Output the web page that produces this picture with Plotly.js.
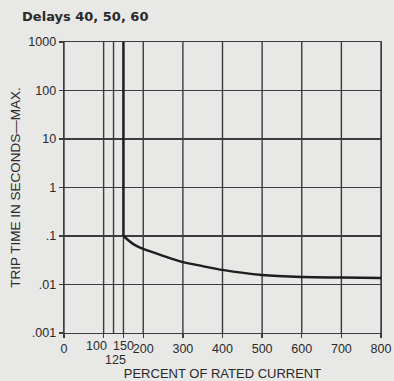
<!DOCTYPE html>
<html>
<head>
<meta charset="utf-8">
<script src="https://cdn.plot.ly/plotly-3.0.1.min.js"></script>
<style>html,body{margin:0;padding:0;background:#e8e8e6;}#chart{width:394px;height:381px;}</style>
</head>
<body>
<div id="chart"></div>
<script>
// Trip curve: percent of rated current vs trip time (seconds, max)
var currentPct = [150, 150, 175, 200, 250, 300, 350, 400, 500, 600, 700, 800];
var tripTime   = [1000, 0.1, 0.068, 0.054, 0.039, 0.029, 0.024, 0.020, 0.0157, 0.0143, 0.0139, 0.0136];

var xTickVals = [0, 100, 150, 200, 300, 400, 500, 600, 700, 800];
var xTickText = ['0', '', '', '200', '300', '400', '500', '600', '700', '800'];
var xGridVals = [0, 100, 125, 150, 200, 300, 400, 500, 600, 700, 800];
var crowdedLabels = [{v:100, t:'100', dx:-7, dy:0}, {v:150, t:'150', dx:0, dy:0}, {v:125, t:'125', dx:2, dy:-14}];
var yTickVals = [0.001, 0.01, 0.1, 1, 10, 100, 1000];
var yTickText = ['.001', '.01', '.1', '1', '10', '100', '1000'];

var gridColor = '#3c3c3c';
var textColor = '#2a2a2a';
var shapes = xGridVals.map(function(v){
  return {type:'line', xref:'x', yref:'paper', x0:v, x1:v, y0:0, y1:1,
          line:{color:gridColor, width:1.4}, layer:'below'};
});

var vertical = {
  x: currentPct.slice(0, 2), y: tripTime.slice(0, 2), type:'scatter', mode:'lines',
  line:{color:'#1e1e1e', width:2.4}, hoverinfo:'skip'
};
var curve = {
  x: currentPct.slice(1), y: tripTime.slice(1), type:'scatter', mode:'lines',
  line:{color:'#1e1e1e', width:2.4, shape:'spline', smoothing:0.8}, hoverinfo:'skip'
};

var baseFont = 'Liberation Sans, Arial, sans-serif';
var tickSize = 12.5;

var annotations = crowdedLabels.map(function(l){
  return {x:l.v, y:0, xref:'x', yref:'paper', yanchor:'top', yshift:-5 + l.dy, xshift:l.dx,
          showarrow:false, text:l.t, borderpad:0, font:{family:baseFont, size:tickSize, color:textColor}};
});

var layout = {
  width:394, height:381,
  margin:{l:64, r:13, t:42, b:48},
  paper_bgcolor:'#e8e8e6', plot_bgcolor:'#e8e8e6',
  showlegend:false,
  font:{family:baseFont, color:textColor},
  title:{text:'<b>Delays 40, 50, 60</b>', x:0.056, xanchor:'left', y:0.958, yanchor:'middle',
         font:{family:'DejaVu Sans, sans-serif', size:13, color:textColor}},
  xaxis:{range:[0,800], tickvals:xTickVals, ticktext:xTickText, tickangle:0, showgrid:false,
         zeroline:false, showline:true, linecolor:gridColor, linewidth:1.4, mirror:true,
         ticks:'outside', ticklen:4, tickcolor:gridColor, tickwidth:1.4,
         tickfont:{size:tickSize, color:textColor},
         title:{text:'PERCENT OF RATED CURRENT', standoff:15, font:{size:13, color:textColor}}},
  yaxis:{type:'log', range:[-3,3], tickvals:yTickVals, ticktext:yTickText,
         showgrid:true, gridcolor:gridColor, gridwidth:1.4,
         zeroline:false, showline:true, linecolor:gridColor, linewidth:1.4, mirror:true,
         ticks:'outside', ticklen:4, tickcolor:gridColor, tickwidth:1.4,
         tickfont:{size:tickSize, color:textColor},
         title:{text:'TRIP TIME IN SECONDS—MAX.', standoff:4, font:{size:13.5, color:textColor}}},
  shapes:shapes,
  annotations:annotations
};

Plotly.newPlot('chart', [vertical, curve], layout, {displayModeBar:false, staticPlot:true});
</script>
</body>
</html>
